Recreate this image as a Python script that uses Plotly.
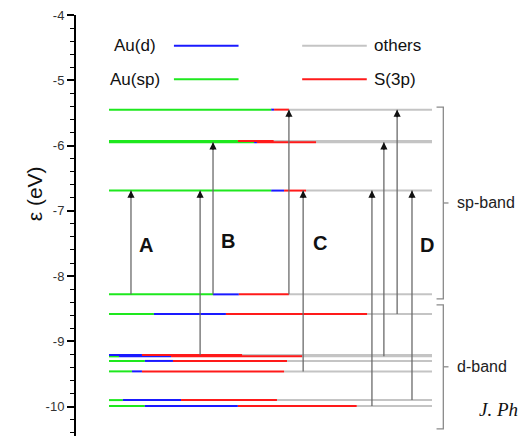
import plotly.graph_objects as go

# ---- data ----
energies = [-5.45, -5.93, -5.95, -6.69, -8.28, -8.58, -9.21, -9.23, -9.30, -9.46, -9.90, -9.99]
au_sp = [50.2, 39.9, 44.9, 50.2, 32.2, 13.9, 0.0, 3.1, 11.1, 7.1, 4.3, 11.1]
au_d = [0.9, 0.0, 0.9, 4.0, 8.0, 22.3, 10.2, 16.1, 8.7, 3.1, 18.0, 28.8]
s_3p = [4.6, 11.1, 18.3, 6.8, 15.5, 43.7, 31.0, 40.6, 35.3, 44.0, 29.7, 36.8]
total = 100.0

arrow_x = [6.8, 28.2, 32.2, 55.7, 60.1, 81.4, 85.1, 89.2, 93.8]
arrow_from = [-8.28, -9.21, -8.28, -8.28, -9.46, -9.99, -9.23, -8.58, -9.90]
arrow_to = [-6.69, -6.69, -5.95, -5.45, -6.69, -6.69, -5.95, -5.45, -6.69]

group_labels = ["A", "B", "C", "D"]
group_label_x = [11.6, 36.8, 65.3, 98.4]
group_label_y = [-7.53, -7.47, -7.50, -7.53]

bands = ["sp-band", "d-band"]
band_top = [-5.41, -8.44]
band_bottom = [-8.35, -10.34]

y_ticks = [-4, -5, -6, -7, -8, -9, -10]

C_SP, C_D, C_S, C_O = "#1ee81e", "#1a1aff", "#ff1a1a", "#c4c4c4"

fig = go.Figure()

def segs(starts, ends):
    xs, ys = [], []
    for e, a, b in zip(energies, starts, ends):
        if b - a > 0:
            xs += [a, b, None]
            ys += [e, e, None]
    return xs, ys

z = [0.0] * len(energies)
e1 = au_sp
e2 = [a + b for a, b in zip(au_sp, au_d)]
e3 = [a + b for a, b in zip(e2, s_3p)]
e4 = [total] * len(energies)

for starts, ends, col in [(e3, e4, C_O), (z, e1, C_SP), (e1, e2, C_D), (e2, e3, C_S)]:
    xs, ys = segs(starts, ends)
    fig.add_trace(go.Scatter(x=xs, y=ys, mode="lines", line=dict(color=col, width=2),
                             hoverinfo="skip", showlegend=False))

# arrows
ax_, ay_ = [], []
for x, a, b in zip(arrow_x, arrow_from, arrow_to):
    ax_ += [x, x, None]
    ay_ += [a, b, None]
fig.add_trace(go.Scatter(x=ax_, y=ay_, mode="lines", line=dict(color="#6a6a6a", width=1.3),
                         hoverinfo="skip", showlegend=False))

annotations = []
for x, b in zip(arrow_x, arrow_to):
    annotations.append(dict(x=x, y=b, xref="x", yref="y", ax=0, ay=9, showarrow=True,
                            arrowhead=2, arrowsize=1.1, arrowwidth=1.3, arrowcolor="#111",
                            text=""))

for t, x, y in zip(group_labels, group_label_x, group_label_y):
    annotations.append(dict(x=x, y=y, xref="x", yref="y", text="<b>%s</b>" % t, showarrow=False,
                            font=dict(family="Arial, Liberation Sans", size=20, color="#111")))

# brackets
shapes = []
bx = 103.5
for name, top, bot in zip(bands, band_top, band_bottom):
    mid = (top + bot) / 2
    shapes.append(dict(type="path", xref="x", yref="y",
                       path=f"M {bx-2.1},{top} L {bx},{top} L {bx},{bot} L {bx-2.1},{bot}",
                       line=dict(color="#8a8a8a", width=1.3)))
    shapes.append(dict(type="line", xref="x", yref="y", x0=bx, x1=bx + 1.6, y0=mid, y1=mid,
                       line=dict(color="#8a8a8a", width=1.3)))
    annotations.append(dict(x=bx + 3.5, y=mid, xref="x", yref="y", text=name, showarrow=False,
                            xanchor="left", font=dict(family="Arial, Liberation Sans", size=16, color="#222")))

# manual legend
leg = [("Au(d)", C_D, 20.1, -4.47, "right"), ("Au(sp)", C_SP, 20.1, -4.985, "right"),
       ("others", C_O, 59.8, -4.47, "left"), ("S(3p)", C_S, 59.8, -4.985, "left")]
for name, col, x0, y, side in leg:
    fig.add_trace(go.Scatter(x=[x0, x0 + 20], y=[y, y], mode="lines", line=dict(color=col, width=2),
                             hoverinfo="skip", showlegend=False))
    if side == "right":
        annotations.append(dict(x=8.0, y=y, xref="x", yref="y", text=name, showarrow=False,
                                xanchor="center", font=dict(family="Arial, Liberation Sans", size=17, color="#111")))
    else:
        annotations.append(dict(x=x0 + 21.5, y=y, xref="x", yref="y", text=name, showarrow=False,
                                xanchor="left", font=dict(family="Arial, Liberation Sans", size=17, color="#111")))

annotations.append(dict(x=127.0, y=-10.05, xref="x", yref="y", text="<i>J. Ph</i>",
                        showarrow=False, xanchor="right", borderpad=0,
                        font=dict(family="Liberation Serif, Times New Roman", size=19, color="#111")))

annotations.append(dict(x=-0.122, y=0.575, xref="paper", yref="paper", text="ε (eV)", textangle=-90,
                        showarrow=False, font=dict(family="Arial, Liberation Sans", size=21, color="#111")))

fig.update_layout(
    width=520, height=436,
    margin=dict(l=76, r=0, t=15, b=0),
    plot_bgcolor="white", paper_bgcolor="white",
    showlegend=False,
    xaxis=dict(visible=False, range=[-10.22, 127.24], fixedrange=True),
    yaxis=dict(range=[-10.45, -4], tickvals=y_ticks, ticktext=[str(v) for v in y_ticks],
               showline=True, linecolor="black", linewidth=2, ticks="outside", ticklen=7,
               tickwidth=1.5, tickcolor="black", showgrid=False, zeroline=False,
               tickfont=dict(family="Arial, Liberation Sans", size=13, color="#333"),
               minor=dict(dtick=0.2, ticks="outside", ticklen=4, tickwidth=1.2, tickcolor="black"),
               automargin=False),
    annotations=annotations,
    shapes=shapes,
)

fig.write_html("out.html")
